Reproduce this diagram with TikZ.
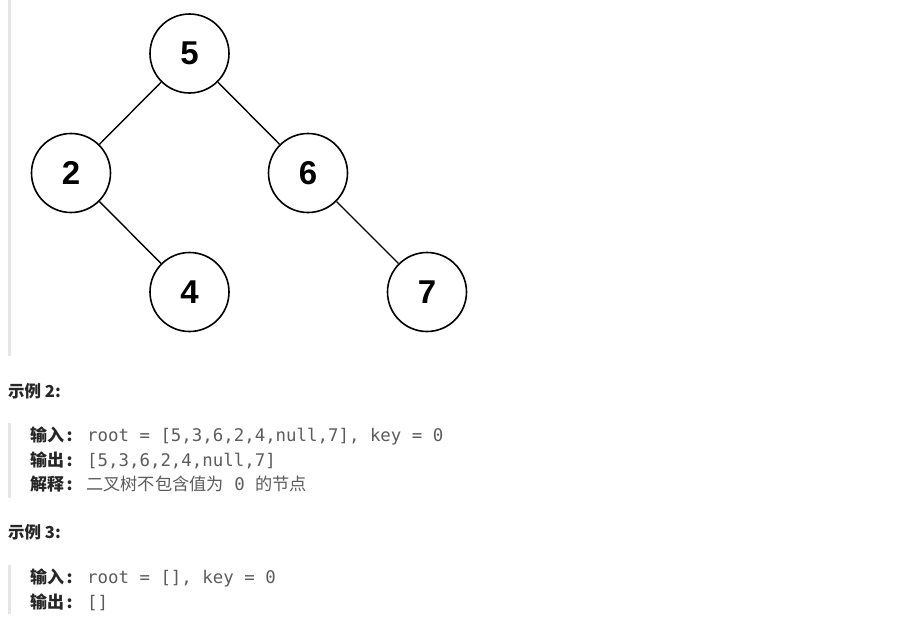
\documentclass[tikz,border=0pt]{standalone}
\usepackage{fontspec}
\setmainfont{Liberation Sans}
\newfontfamily\cjk{Noto Sans CJK SC}
\newfontfamily\codefont{DejaVu Sans Mono}
\definecolor{barc}{HTML}{E6E6E6}
\definecolor{codec}{HTML}{5C5C5C}
\definecolor{labc}{HTML}{262626}
\begin{document}
\begin{tikzpicture}[x=1pt,y=-1pt,
  treenode/.style={circle,draw=black,line width=1.6pt,minimum size=79pt,inner sep=0pt,
    font=\fontsize{33}{33}\selectfont\bfseries},
  edge/.style={line width=1.4pt,black},
  bar/.style={fill=barc,draw=none},
  head/.style={anchor=base west,inner sep=0pt,text=labc,font=\cjk\bfseries\fontsize{16.5}{18}\selectfont},
  lab/.style={anchor=base west,inner sep=0pt,text=labc,font=\cjk\bfseries\fontsize{17}{18}\selectfont},
  code/.style={anchor=base west,inner sep=0pt,text=codec,font=\codefont\fontsize{17.4}{18}\selectfont},
  expl/.style={anchor=base west,inner sep=0pt,text=codec,font=\cjk\fontsize{17.2}{18}\selectfont}]
\useasboundingbox (0,0) rectangle (906,622);
% side bars
\fill[bar] (7.5,0) rectangle (10.5,356);
\fill[bar] (7.5,423) rectangle (10.5,498);
\fill[bar] (7.5,565) rectangle (10.5,614);
% tree
\node[treenode] (n5) at (189.5,53.5) {5};
\node[treenode] (n2) at (71,173) {2};
\node[treenode] (n6) at (308,173) {6};
\node[treenode] (n4) at (189.5,292) {4};
\node[treenode] (n7) at (427,292) {7};
\draw[edge] (n5) -- (n2);
\draw[edge] (n5) -- (n6);
\draw[edge] (n2) -- (n4);
\draw[edge] (n6) -- (n7);
% example 2
\node[head] (h2) at (8,397.5) {示例 2:};
\node[lab] (in2) at (30,441.5) {输入\kern2.5pt:};
\node[code] (c21) at (87,441.5) {root = [5,3,6,2,4,null,7], key = 0};
\node[lab] (out2) at (30,466.5) {输出\kern2.5pt:};
\node[code] (c22) at (87,466.5) {[5,3,6,2,4,null,7]};
\node[lab] (ex2) at (30,490.5) {解释\kern2.5pt:};
\node[expl] (c23) at (86,490.5) {二叉树不包含值为{\codefont\fontsize{17.4}{18}\selectfont\ 0\ }的节点};
% example 3
\node[head] (h3) at (8,538) {示例 3:};
\node[lab] (in3) at (30,583) {输入\kern2.5pt:};
\node[code] (c31) at (87,583) {root = [], key = 0};
\node[lab] (out3) at (30,608) {输出\kern2.5pt:};
\node[code] (c32) at (87,608) {[]};
\end{tikzpicture}
\end{document}
